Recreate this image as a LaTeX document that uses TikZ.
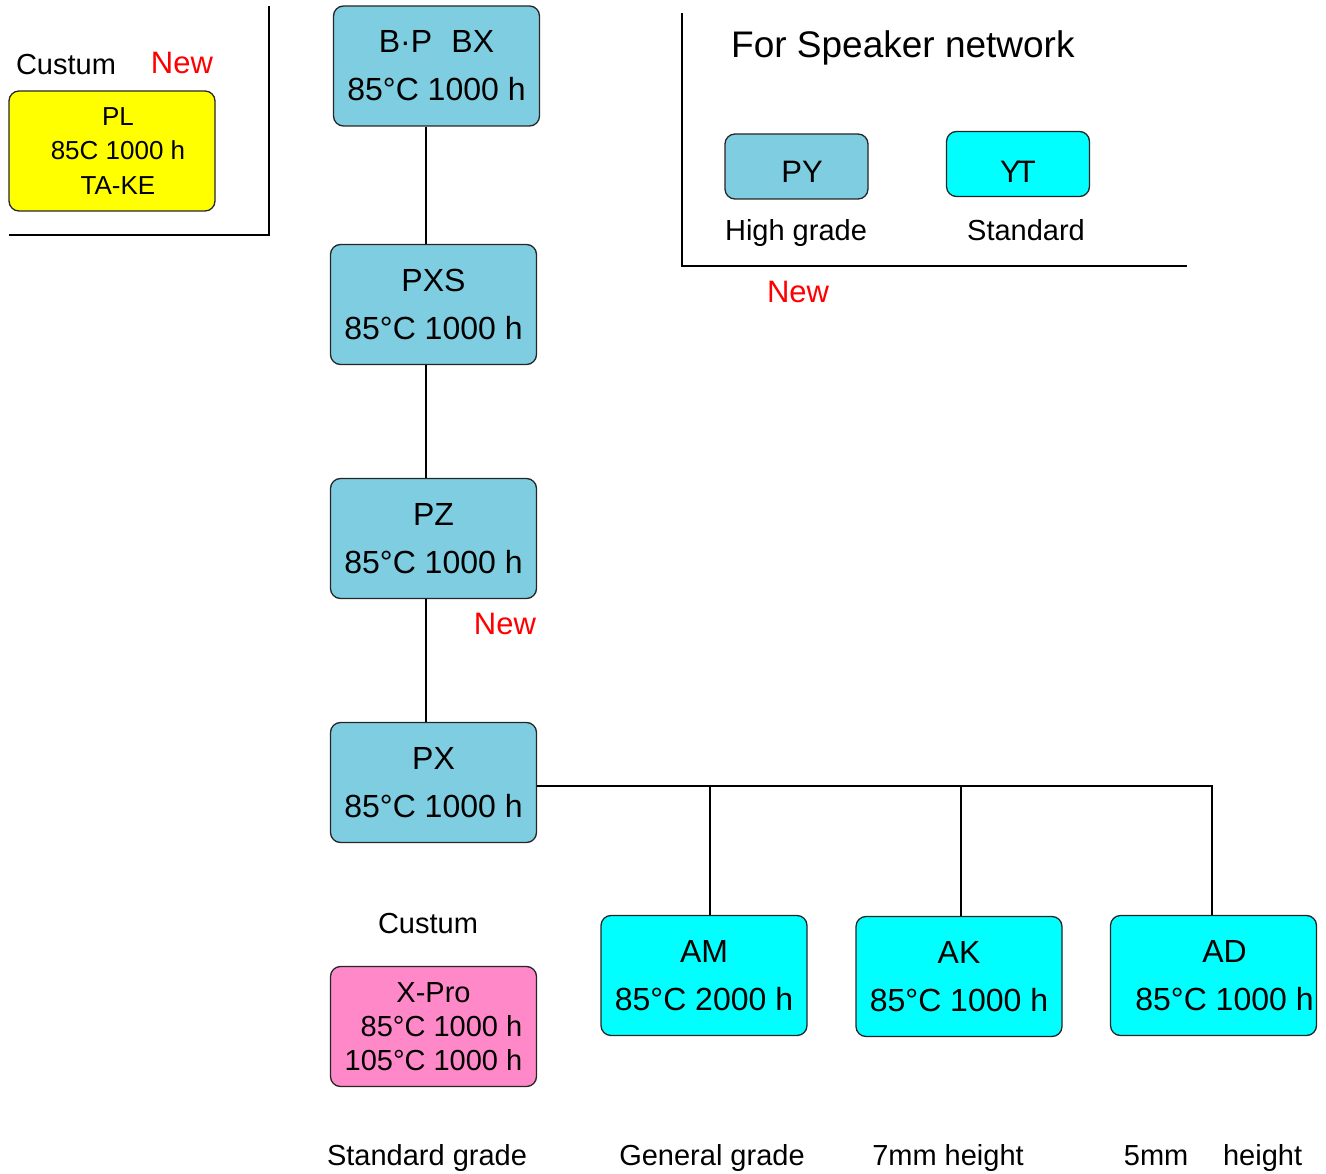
\documentclass[tikz,border=0pt]{standalone}
\usepackage{fontspec}
\setmainfont{Liberation Sans}
\definecolor{boxblue}{RGB}{126,205,224}
\definecolor{boxcyan}{RGB}{0,255,255}
\definecolor{boxyellow}{RGB}{255,255,0}
\definecolor{boxpink}{RGB}{255,136,200}
\definecolor{newred}{RGB}{255,0,0}
\newcommand\szBox{\fontsize{32}{48}\selectfont}
\newcommand\szThree{\fontsize{29}{34}\selectfont}
\newcommand\szPL{\fontsize{26}{34.5}\selectfont}
\newcommand\szLbl{\fontsize{29}{34}\selectfont}
\newcommand\szNew{\fontsize{31}{36}\selectfont}
\newcommand\szTitle{\fontsize{37}{42}\selectfont}
\newcommand\szSmall{\fontsize{29}{34}\selectfont}
\begin{document}
\begin{tikzpicture}[x=1pt,y=-1pt,
  box/.style={draw=black!85, line width=1.3pt, rounded corners=10pt,
    minimum width=206pt, minimum height=120pt, align=center, inner sep=0pt, font=\szBox},
  smallbox/.style={draw=black!85, line width=1.3pt, rounded corners=10pt,
    minimum width=143pt, minimum height=65pt, inner sep=0pt, font=\szNew, text depth=0pt},
  conn/.style={line width=2.5pt, black},
  frame/.style={line width=2.5pt, black},
  lbl/.style={anchor=base, inner sep=0pt, font=\szLbl},
  newlbl/.style={anchor=base, inner sep=0pt, font=\szNew, text=newred}]
\useasboundingbox (0,0) rectangle (1326,1174);

% main chain
\node[box, fill=boxblue] (bpbx) at (436.5,66) {B·P\hspace{0.6em}BX\\85°C 1000 h};
\node[box, fill=boxblue] (pxs) at (433.5,304.5) {PXS\\85°C 1000 h};
\node[box, fill=boxblue] (pz) at (433.5,538.5) {PZ\\85°C 1000 h};
\node[box, fill=boxblue] (px) at (433.5,782.5) {PX\\85°C 1000 h};
\draw[conn] (bpbx.south -| 426,0) -- (pxs.north -| 426,0);
\draw[conn] (pxs.south -| 426,0) -- (pz.north -| 426,0);
\draw[conn] (pz.south -| 426,0) -- (px.north -| 426,0);
\node[newlbl] (newpz) at (505,634) {New};

% branches
\node[box, fill=boxcyan] (am) at (704,975.5) {AM\\85°C 2000 h};
\node[box, fill=boxcyan] (ak) at (959,976.5) {AK\\85°C 1000 h};
\node[box, fill=boxcyan] (ad) at (1213.5,975.5) {\hspace*{22pt}AD\\\hspace*{22pt}85°C 1000 h};
\coordinate (jr) at (1212,786);
\draw[conn] (px.east |- jr) -- (jr) -- (ad.north -| jr);
\draw[conn] (am.north -| 710,0) -- (710,786);
\draw[conn] (ak.north -| 961,0) -- (961,786);

% custom X-Pro
\node[lbl] (cust2) at (428,933) {Custum};
\node[box, fill=boxpink, font=\szThree] (xpro) at (433.5,1026.5) {X-Pro\\\hspace*{16pt}85°C 1000 h\\105°C 1000 h};

% bottom labels
\node[anchor=base, inner sep=0pt, font=\szSmall] (l1) at (427,1165) {Standard grade};
\node[anchor=base, inner sep=0pt, font=\szSmall] (l2) at (712,1165) {General grade};
\node[anchor=base, inner sep=0pt, font=\szSmall] (l3) at (948,1165) {7mm height};
\node[anchor=base, inner sep=0pt, font=\szSmall] (l4) at (1213,1165) {5mm\hspace{1.2em}height};

% top-left custom block
\node[lbl] (cust1) at (66,74.5) {Custum};
\node[newlbl] (new1) at (182,74) {New};
\node[box, fill=boxyellow, font=\szPL, minimum width=206pt, minimum height=120pt] (pl) at (112,151) {\hspace*{12pt}PL\\\hspace*{12pt}85C 1000 h\\\hspace*{12pt}TA-KE};
\coordinate (tl1) at (269,6);
\coordinate (tl2) at (269,235);
\coordinate (tl3) at (9,235);
\draw[frame] (tl1) -- (tl2) -- (tl3);

% speaker block
\coordinate (sp1) at (682,13);
\coordinate (sp2) at (682,266);
\coordinate (sp3) at (1187,266);
\draw[frame] (sp1) -- (sp2) -- (sp3);
\node[anchor=base west, inner sep=0pt, font=\szTitle] (title) at (731,58) {For Speaker network};
\node[smallbox, fill=boxblue, text height=33pt] (py) at (796.5,166.5) {\hspace*{11pt}PY};
\node[smallbox, fill=boxcyan, text height=38pt] (yt) at (1018,164) {Y\kern-4ptT};
\node[lbl] (hg) at (796,241) {High grade};
\node[lbl] (std) at (1026,241) {Standard};
\node[newlbl] (new3) at (798,303) {New};
\end{tikzpicture}
\end{document}
